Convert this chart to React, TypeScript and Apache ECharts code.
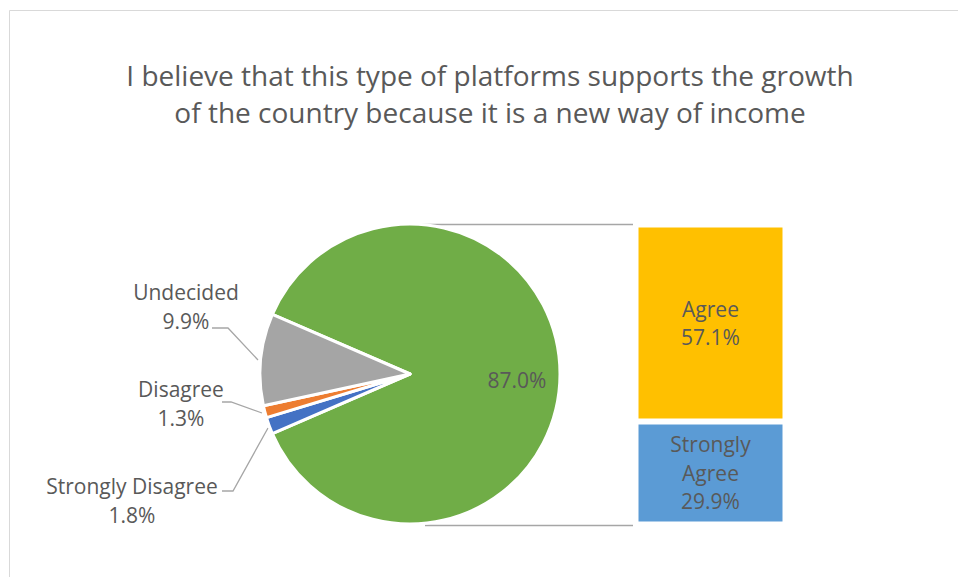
import React, { useEffect, useRef } from 'react';
import * as echarts from 'echarts';

const titleText = 'I believe that this type of platforms supports the growth\nof the country because it is a new way of income';
const pieNames = ['Strongly Disagree', 'Disagree', 'Undecided'];
const pieValues = [1.8, 1.3, 9.9];
const pieColors = ['#4472C4', '#ED7D31', '#A5A5A5'];
const barNames = ['Strongly Agree', 'Agree'];
const barLabels = ['Strongly\nAgree', 'Agree'];
const barValues = [29.9, 57.1];
const barColors = ['#5B9BD5', '#FFC000'];
const otherColor = '#70AD47';

const FONT = 'Open Sans';
const TEXT = '#595959';

const CX = 410;
const CY = 374;
const R = 150;
const BAR_L = 635.5;
const BAR_W = 150;
const BAR_T = 224.5;
const BAR_H = 300;

const labelPos: Record<string, { x: number; y: number; pts?: number[][] }> = {
  Other: { x: 517, y: 380 },
  Undecided: { x: 186, y: 306, pts: [[258, 360], [228, 328], [212, 328]] },
  Disagree: { x: 181, y: 403, pts: [[262, 413], [231, 402], [222, 402]] },
  'Strongly Disagree': { x: 132, y: 500, pts: [[268, 428], [233, 491], [222, 491]] },
};

export default function App() {
  const ref = useRef<HTMLDivElement>(null);
  useEffect(() => {
    if (!ref.current) return;
    const chart = echarts.init(ref.current, undefined, { renderer: 'svg' });
    const otherValue = barValues.reduce((a, b) => a + b, 0);
    const total = otherValue + pieValues.reduce((a, b) => a + b, 0);
    const startAngle = 180 - ((total - otherValue) / total) * 180;
    const pieData = [
      { name: 'Other', value: otherValue, itemStyle: { color: otherColor }, labelLine: { show: false } },
      ...pieNames.map((n, i) => ({ name: n, value: pieValues[i], itemStyle: { color: pieColors[i] } })),
    ];
    chart.setOption({
      animation: false,
      backgroundColor: '#ffffff',
      title: {
        text: titleText,
        left: 485,
        top: 51,
        textAlign: 'center',
        textStyle: { fontFamily: FONT, fontSize: 28, fontWeight: 'normal', color: TEXT, lineHeight: 37 },
      },
      graphic: [
        { type: 'rect', shape: { x: 9.5, y: 10.5, width: 1000, height: 700 }, style: { fill: 'none', stroke: '#d9d9d9', lineWidth: 1 }, silent: true },
        { type: 'line', shape: { x1: CX + 8, y1: CY - R + 0.5, x2: BAR_L - 2.5, y2: CY - R + 0.5 }, style: { stroke: '#a6a6a6', lineWidth: 1.5 } },
        { type: 'line', shape: { x1: CX + 15, y1: CY + R + 1.5, x2: BAR_L - 2.5, y2: CY + R + 1.5 }, style: { stroke: '#a6a6a6', lineWidth: 1.5 } },
      ],
      grid: { left: BAR_L, top: BAR_T, width: BAR_W, height: BAR_H, containLabel: false },
      xAxis: { type: 'category', data: ['Other'], show: false },
      yAxis: { type: 'value', min: 0, max: otherValue, show: false },
      series: [
        {
          type: 'pie',
          center: [CX, CY],
          radius: [0, R],
          startAngle,
          clockwise: true,
          avoidLabelOverlap: false,
          itemStyle: { borderColor: '#ffffff', borderWidth: 3 },
          label: {
            show: true,
            position: 'outside',
            color: TEXT,
            fontFamily: FONT,
            fontSize: 21,
            lineHeight: 29,
            align: 'center',
            formatter: (p: any) => (p.name === 'Other' ? '' : p.name + '\n') + p.value.toFixed(1) + '%',
          },
          labelLine: { show: true, lineStyle: { color: '#a6a6a6', width: 1.3 } },
          labelLayout: (p: any) => {
            const name = pieData[p.dataIndex].name;
            const lp = labelPos[name];
            const out: any = { x: lp.x, y: lp.y, align: 'center', verticalAlign: 'middle' };
            if (lp.pts) out.labelLinePoints = lp.pts;
            return out;
          },
          data: pieData,
        },
        ...barNames.map((n, i) => ({
          type: 'bar',
          name: n,
          stack: 'other',
          barWidth: '100%',
          data: [barValues[i]],
          itemStyle: { color: barColors[i], borderColor: '#ffffff', borderWidth: 3 },
          label: {
            show: true,
            position: 'inside',
            color: TEXT,
            fontFamily: FONT,
            fontSize: 21,
            lineHeight: 28.5,
            align: 'center',
            formatter: () => barLabels[i] + '\n' + barValues[i].toFixed(1) + '%',
          },
        })),
      ],
    });
    return () => chart.dispose();
  }, []);
  return <div ref={ref} style={{ position: 'fixed', left: 0, top: 0, width: 958, height: 577 }} />;
}
